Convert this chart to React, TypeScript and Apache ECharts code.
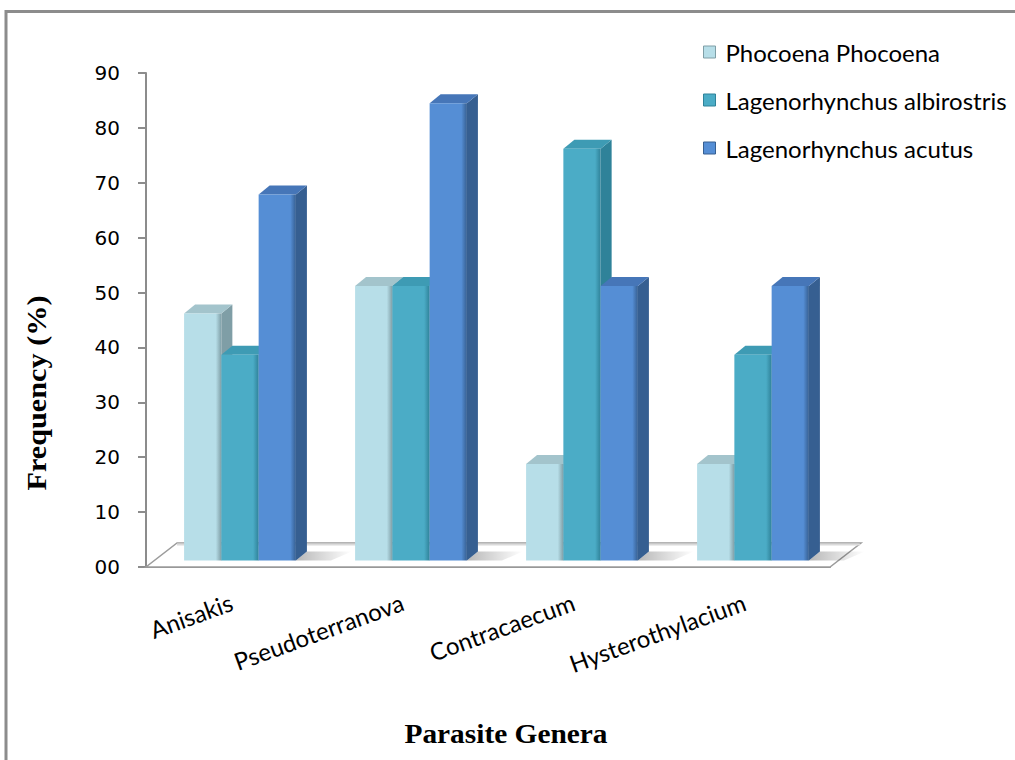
import React, { useEffect, useRef } from "react";
import * as echarts from "echarts";

const categories = ["Anisakis", "Pseudoterranova", "Contracaecum", "Hysterothylacium"];
const seriesNames = ["Phocoena Phocoena", "Lagenorhynchus albirostris", "Lagenorhynchus acutus"];
const phocoena = [45, 50, 17.6, 17.6];
const albirostris = [37.5, 50, 75, 37.5];
const acutus = [66.7, 83.3, 50, 50];
const yMin = 0;
const yMax = 90;
const yStep = 10;
const yTitle = "Frequency (%)";
const xTitle = "Parasite Genera";

const seriesValues = [phocoena, albirostris, acutus];
const palette = [
  { front: "#B7DEE8", side: "#7F9EA6", top: "#A3C4CC" },
  { front: "#4BACC6", side: "#2F8299", top: "#3E9BB4" },
  { front: "#558ED5", side: "#365F91", top: "#4676B8" },
];

function makeBarRender(sIdx: number) {
  return (params: any, api: any) => {
    const ci = api.value(0);
    const v = api.value(1);
    const base = api.coord([ci, 0]);
    const top = api.coord([ci, v]);
    const band = api.size([1, 0])[0];
    const bw = band * 0.218;
    const shiftX = 8.5;
    const shiftY = -6.5;
    const center = base[0] + shiftX;
    const left = center + (sIdx - 1.5) * bw;
    const right = left + bw;
    const yb = base[1] + shiftY;
    const yt = top[1] + shiftY;
    const dx = 11;
    const dy = -9;
    const c = palette[sIdx];
    const children: any[] = [];
    if (sIdx === 2) {
      children.push({
        type: "polygon",
        shape: {
          points: [
            [right, yb],
            [right + dx, yb + dy],
            [right + dx + 45, yb + dy],
            [right + 35, yb],
          ],
        },
        style: {
          fill: new echarts.graphic.LinearGradient(0, 0, 1, 0, [
            { offset: 0, color: "rgba(0,0,0,0.28)" },
            { offset: 1, color: "rgba(0,0,0,0)" },
          ]),
        },
      });
    }
    children.push(
      {
        type: "polygon",
        shape: { points: [[right, yb], [right, yt], [right + dx, yt + dy], [right + dx, yb + dy]] },
        style: { fill: c.side },
      },
      {
        type: "polygon",
        shape: { points: [[left, yt], [right, yt], [right + dx, yt + dy], [left + dx, yt + dy]] },
        style: { fill: c.top },
      },
      {
        type: "rect",
        shape: { x: left, y: yt, width: bw, height: yb - yt },
        style: {
          fill: new echarts.graphic.LinearGradient(0, 0, 1, 0, [
            { offset: 0, color: c.front },
            { offset: 0.08, color: c.front },
            { offset: 0.85, color: c.front },
            { offset: 1, color: c.side },
          ]),
        },
      }
    );
    return { type: "group", children };
  };
}

function floorRender(params: any, api: any) {
  const cs = params.coordSys;
  const x0 = cs.x;
  const x1 = cs.x + cs.width;
  const yB = cs.y + cs.height;
  const fdx = 31;
  const fdy = -24;
  return {
    type: "group",
    children: [
      {
        type: "polygon",
        shape: { points: [[x0, yB], [x1, yB], [x1 + fdx, yB + fdy], [x0 + fdx, yB + fdy]] },
        style: { fill: "#ffffff", stroke: "#9C9C9C", lineWidth: 1.5 },
      },
      {
        type: "line",
        shape: { x1: x0 + fdx, y1: yB + fdy + 1.5, x2: x1 + fdx - 1, y2: yB + fdy + 1.5 },
        style: { stroke: "#DADADA", lineWidth: 2 },
      },
    ],
  };
}

export default function App() {
  const ref = useRef<HTMLDivElement>(null);
  useEffect(() => {
    document.body.style.margin = "0";
    const chart = echarts.init(ref.current!, undefined, { renderer: "svg" });
    const series: any[] = [
      {
        type: "custom",
        name: "floor",
        silent: true,
        data: [[0, 0]],
        renderItem: floorRender,
      },
    ];
    seriesNames.forEach((name, s) => {
      series.push({
        type: "custom",
        name,
        itemStyle: { color: palette[s].front },
        data: seriesValues[s].map((v, i) => [i, v]),
        encode: { x: 0, y: 1 },
        renderItem: makeBarRender(s),
      });
    });
    chart.setOption({
      animation: false,
      backgroundColor: "#ffffff",
      graphic: [
        { type: "line", shape: { x1: 6, y1: 11.5, x2: 1015, y2: 11.5 }, style: { stroke: "#8C8C8C", lineWidth: 3 } },
        { type: "line", shape: { x1: 6, y1: 10, x2: 6, y2: 760 }, style: { stroke: "#8C8C8C", lineWidth: 3 } },
        {
          type: "text",
          x: 37,
          y: 393,
          rotation: Math.PI / 2,
          scaleX: 1.12,
          style: {
            text: yTitle,
            align: "center",
            verticalAlign: "middle",
            fontFamily: "Liberation Serif",
            fontWeight: "bold",
            fontSize: 27,
            fill: "#000",
          },
        },
        {
          type: "text",
          x: 506,
          y: 733,
          scaleX: 1.05,
          style: {
            text: xTitle,
            align: "center",
            verticalAlign: "middle",
            fontFamily: "Liberation Serif",
            fontWeight: "bold",
            fontSize: 28,
            fill: "#000",
          },
        },
      ],
      legend: {
        orient: "vertical",
        left: 703,
        top: 40,
        padding: 0,
        itemWidth: 12,
        itemHeight: 12,
        itemGap: 24,
        icon: "rect",
        textStyle: { fontFamily: "Lato", fontSize: 24, color: "#000", lineHeight: 24, padding: [0, 0, 0, 5] },
        data: seriesNames.map((n, s) => ({
          name: n,
          itemStyle: { color: palette[s].front, borderColor: palette[s].side, borderWidth: 1 },
        })),
      },
      grid: { left: 146, right: 185, top: 73, bottom: 193 },
      xAxis: {
        type: "category",
        data: categories,
        axisLine: { lineStyle: { color: "#8C8C8C", width: 2 } },
        axisTick: { length: 10, lineStyle: { color: "#8C8C8C", width: 2 } },
        axisLabel: { rotate: 20, fontFamily: "Lato", fontSize: 24, color: "#000", margin: 34 },
      },
      yAxis: {
        type: "value",
        min: yMin,
        max: yMax,
        interval: yStep,
        axisLine: { show: true, lineStyle: { color: "#8C8C8C", width: 2 } },
        axisTick: { show: true, length: 8, lineStyle: { color: "#8C8C8C", width: 2 } },
        splitLine: { show: false },
        axisLabel: {
          fontFamily: "DejaVu Sans",
          fontSize: 20,
          color: "#000",
          margin: 26,
          formatter: (v: number) => (v === 0 ? "00" : String(v)),
        },
      },
      series,
    });
    return () => chart.dispose();
  }, []);
  return <div ref={ref} style={{ width: 1015, height: 760 }} />;
}
